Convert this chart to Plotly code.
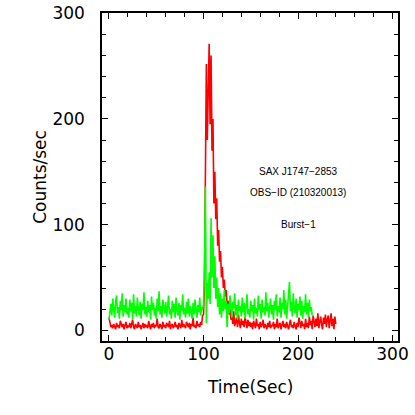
import plotly.graph_objects as go

# --- light curve values (1 s bins) ---
red_counts = [
    12, 8, 3, 5, 2, 6, 4, 1, 7, 3, 5, 2, 9, 4, 3, 6, 1, 5, 8, 2,
    4, 3, 7, 2, 5, 10, 3, 1, 6, 4, 2, 8, 3, 5, 1, 4, 7, 2, 6, 3,
    5, 2, 9, 4, 1, 6, 3, 7, 2, 5, 4, 11, 3, 2, 6, 4, 1, 8, 3, 5,
    2, 7, 4, 3, 9, 1, 5, 6, 2, 4, 8, 3, 5, 1, 7, 4, 2, 10, 3, 6,
    4, 2, 8, 5, 3, 7, 1, 6, 4, 12, 3, 5, 2, 9, 4, 6, 3, 8, 5, 14,
    15, 40, 120, 252, 180, 240, 271, 195, 260, 170,
    200, 120, 150, 105, 125, 80, 95, 65, 75, 50,
    60, 40, 48, 32, 38, 22, 28, 15, 20, 10,
    14, 6, 18, 4, 9, 12, 3, 15, 7, 2, 11, 5, 9, 3, 13, 6, 2, 10, 4, 8,
    3, 7, 1, 9, 5, 2, 11, 4, 6, 1, 8, 3, 5, 10, 2, 6, 4, 1, 7, 3,
    9, 2, 5, 4, 8, 1, 6, 3, 11, 2, 5, 7, 1, 4, 9, 3, 6, 2, 8, 4,
    1, 6, 10, 3, 5, 2, 8, 4, 1, 7, 3, 12, 5, 2, 9, 4, 6, 1, 11, 3,
    7, 2, 13, 5, 9, 1, 14, 6, 3, 11, 4, 16, 2, 8, 13, 5, 1, 12, 6, 15,
    3, 10, 14, 2, 8, 16, 4, 11, 1, 13, 6,
]
green_counts = [
    10, 18, 25, 14, 30, 20, 12, 27, 33, 16, 22, 11, 28, 19, 35, 13, 24, 17, 30, 15,
    21, 12, 29, 18, 26, 10, 34, 16, 23, 13, 31, 20, 14, 27, 11, 25, 19, 36, 15, 22,
    13, 28, 17, 24, 10, 32, 19, 26, 14, 21, 11, 30, 18, 37, 15, 23, 12, 29, 20, 16,
    27, 13, 22, 33, 15, 20, 11, 28, 17, 25, 12, 31, 19, 14, 26, 10, 24, 18, 34, 15,
    21, 12, 27, 16, 30, 13, 23, 18, 11, 26, 15, 29, 20, 12, 24, 17, 31, 14, 22, 19,
    25, 60, 136, 7, 45, 30, 55, 25, 106, 50,
    90, 40, 70, 30, 50, 22, 40, 15, 35, 12,
    30, 18, 38, 20, 28, 3, 25, 16, 33, 19, 12, 27, 21, 35, 14, 24, 10, 29, 18, 23,
    13, 31, 17, 26, 11, 22, 34, 15, 20, 12, 28, 18, 24, 10, 30, 16, 21, 13, 33, 19,
    25, 11, 29, 17, 22, 14, 36, 18, 26, 12, 21, 30, 15, 24, 10, 28, 19, 34, 13, 23,
    17, 31, 12, 26, 20, 38, 15, 29, 11, 24, 33, 46, 18, 27, 13, 35, 21, 16, 30, 12,
    25, 19, 32, 14, 28, 11, 23, 17, 34, 15, 26, 12, 29, 18, 22, 14,
]
red_time = list(range(len(red_counts)))
green_time = list(range(len(green_counts)))

notes = ["SAX J1747\u22122853", "OBS\u2212ID (210320013)", "Burst\u22121"]
note_y = [150, 130, 100]

fig = go.Figure()
fig.add_trace(go.Scatter(x=red_time, y=red_counts, mode="lines",
                         line=dict(color="#ff0000", width=1.6), showlegend=False))
fig.add_trace(go.Scatter(x=green_time, y=green_counts, mode="lines",
                         line=dict(color="#00ff00", width=1.6), showlegend=False))

for txt, yy in zip(notes, note_y):
    fig.add_annotation(x=200, y=yy, text=txt, showarrow=False,
                       font=dict(family="Liberation Sans", size=10, color="black"))

# axis titles as annotations for exact placement
fig.add_annotation(x=0.5, y=-0.14, xref="paper", yref="paper", text="Time(Sec)",
                   xanchor="center", yanchor="middle", showarrow=False,
                   font=dict(family="DejaVu Sans", size=17, color="black"))
fig.add_annotation(x=-0.21, y=0.5, xref="paper", yref="paper", text="Counts/sec",
                   xanchor="center", yanchor="middle", textangle=-90, showarrow=False,
                   font=dict(family="DejaVu Sans", size=17, color="black"))

axis_common = dict(showline=True, linecolor="black", linewidth=1.5, mirror="allticks",
                   ticks="inside", ticklen=6, tickwidth=1, tickcolor="black",
                   showgrid=False, zeroline=False, automargin=False,
                   tickfont=dict(family="DejaVu Sans", size=17, color="black"),
                   minor=dict(dtick=20, ticks="inside", ticklen=4, tickcolor="black", showgrid=False))
fig.update_xaxes(range=[-7.4, 305.8], dtick=100, tick0=0, ticklabelstandoff=-3, **axis_common)
fig.update_yaxes(range=[-10.1, 300.2], dtick=100, tick0=0, ticklabelstandoff=12, **axis_common)

fig.update_layout(width=415, height=415, margin=dict(l=102, r=17, t=13, b=74, autoexpand=False),
                  paper_bgcolor="white", plot_bgcolor="white")
# drop the browser's default 8px body margin so the figure sits at the window corner
fig.write_html("out.html", config={"displayModeBar": False},
               post_script="document.body.style.margin='0';")
